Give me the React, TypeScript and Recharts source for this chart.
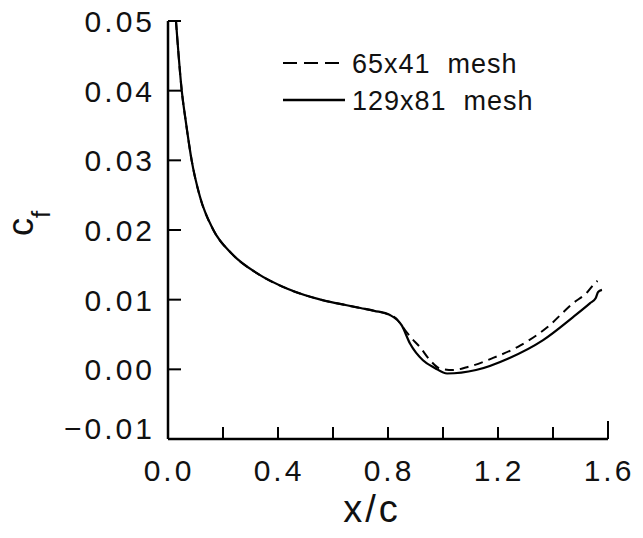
import React from "react";
import { LineChart, Line, XAxis, YAxis } from "recharts";

// x/c stations and skin friction for both meshes
const xCoarse = [0.029, 0.05, 0.065, 0.086, 0.116, 0.165, 0.232, 0.323, 0.432, 0.565, 0.65, 0.7, 0.75, 0.8, 0.83, 0.855, 0.885, 0.916, 0.953, 0.99, 1.036, 1.087, 1.18, 1.28, 1.378, 1.473, 1.523, 1.553, 1.562];
const cfCoarse = [0.05, 0.04, 0.0355, 0.03, 0.0248, 0.02, 0.0166, 0.0138, 0.0116, 0.0099, 0.0092, 0.0088, 0.0084, 0.0079, 0.0073, 0.006, 0.0045, 0.0032, 0.0013, 0.0001, -0.0001, 0.0003, 0.0016, 0.0034, 0.006, 0.0095, 0.011, 0.0124, 0.0127];

const xFine = [0.029, 0.05, 0.065, 0.086, 0.116, 0.165, 0.232, 0.323, 0.432, 0.565, 0.65, 0.7, 0.75, 0.807, 0.85, 0.88, 0.927, 0.97, 1.015, 1.12, 1.24, 1.364, 1.473, 1.535, 1.555, 1.564, 1.578];
const cfFine = [0.05, 0.04, 0.0355, 0.03, 0.0248, 0.02, 0.0166, 0.0138, 0.0116, 0.0099, 0.0092, 0.0088, 0.0084, 0.0078, 0.0063, 0.0037, 0.0013, 0.0002, -0.0006, -0.0001, 0.0016, 0.0042, 0.0075, 0.0095, 0.0102, 0.0111, 0.0114];

const xTicks = [0, 0.2, 0.4, 0.6, 0.8, 1.0, 1.2, 1.4, 1.6];
const xLabeled = [0, 0.4, 0.8, 1.2, 1.6];
const yTicks = [-0.01, 0, 0.01, 0.02, 0.03, 0.04, 0.05];

const coarse = xCoarse.map((x, i) => ({ x, cf: cfCoarse[i] }));
const fine = xFine.map((x, i) => ({ x, cf: cfFine[i] }));

const FONT = "'Liberation Sans', Arial, sans-serif";

function XTick({ x, y, payload }: any) {
  const v = payload.value;
  const show = xLabeled.some((t) => Math.abs(t - v) < 1e-6);
  return (
    <g>
      {v > 0 && <line x1={x} y1={y} x2={x} y2={y - (v > 1.55 ? 18 : 12)} stroke="#000" strokeWidth={2} />}
      {show && (
        <text x={x + 1} y={y + 42} textAnchor="middle" fontSize={30} fontFamily={FONT} fill="#111" letterSpacing={3}>
          {v.toFixed(1)}
        </text>
      )}
    </g>
  );
}

function YTick({ x, y, payload }: any) {
  const v = payload.value;
  const label = v < 0 ? "\u2212" + Math.abs(v).toFixed(2) : v.toFixed(2);
  return (
    <g>
      {v > -0.01 && <line x1={x} y1={y} x2={x + 13} y2={y} stroke="#000" strokeWidth={2} />}
      <text x={x - 13} y={y + (v < 0 ? 0 : 11)} textAnchor="end" fontSize={30} fontFamily={FONT} fill="#111" letterSpacing={3}>
        {label}
      </text>
    </g>
  );
}

export default function App() {
  return (
    <div style={{ position: "absolute", left: 0, top: 0, width: 643, height: 538, background: "#fff" }}>
      <LineChart width={643} height={538} margin={{ top: 21, right: 35, bottom: 39, left: 68 }}>
        <XAxis
          type="number"
          dataKey="x"
          domain={[0, 1.6]}
          ticks={xTicks}
          interval={0}
          allowDataOverflow
          height={60}
          tickSize={0}
          tickMargin={0}
          tick={<XTick />}
          axisLine={{ stroke: "#000", strokeWidth: 2.5 }}
        />
        <YAxis
          type="number"
          dataKey="cf"
          domain={[-0.01, 0.05]}
          ticks={yTicks}
          interval={0}
          allowDataOverflow
          width={100}
          tickSize={0}
          tickMargin={0}
          tick={<YTick />}
          axisLine={{ stroke: "#000", strokeWidth: 2.5 }}
        />
        <Line data={coarse} dataKey="cf" name="65x41 mesh" type="monotone" stroke="#000" strokeWidth={2} strokeDasharray="9 6" dot={false} isAnimationActive={false} />
        <Line data={fine} dataKey="cf" name="129x81 mesh" type="monotone" stroke="#000" strokeWidth={2.2} dot={false} isAnimationActive={false} />
        {/* legend */}
        <line x1={283} y1={63} x2={345} y2={63} stroke="#000" strokeWidth={2} strokeDasharray="14 7" />
        <text x={352} y={73} fontSize={27} fontFamily={FONT} fill="#111" letterSpacing={1} style={{ whiteSpace: "pre" }}>
          65x41  mesh
        </text>
        <line x1={283} y1={100} x2={345} y2={100} stroke="#000" strokeWidth={2.5} />
        <text x={352} y={110} fontSize={27} fontFamily={FONT} fill="#111" letterSpacing={1} style={{ whiteSpace: "pre" }}>
          129x81  mesh
        </text>
        {/* axis titles */}
        <text transform="rotate(-90, 33, 236)" x={33} y={236} fontSize={36} fontFamily={FONT} fill="#111">
          c<tspan fontSize={26} dy={17}>f</tspan>
        </text>
        <text x={372} y={522} textAnchor="middle" fontSize={38} fontFamily={FONT} fill="#111" letterSpacing={3}>
          x/c
        </text>
      </LineChart>
    </div>
  );
}
